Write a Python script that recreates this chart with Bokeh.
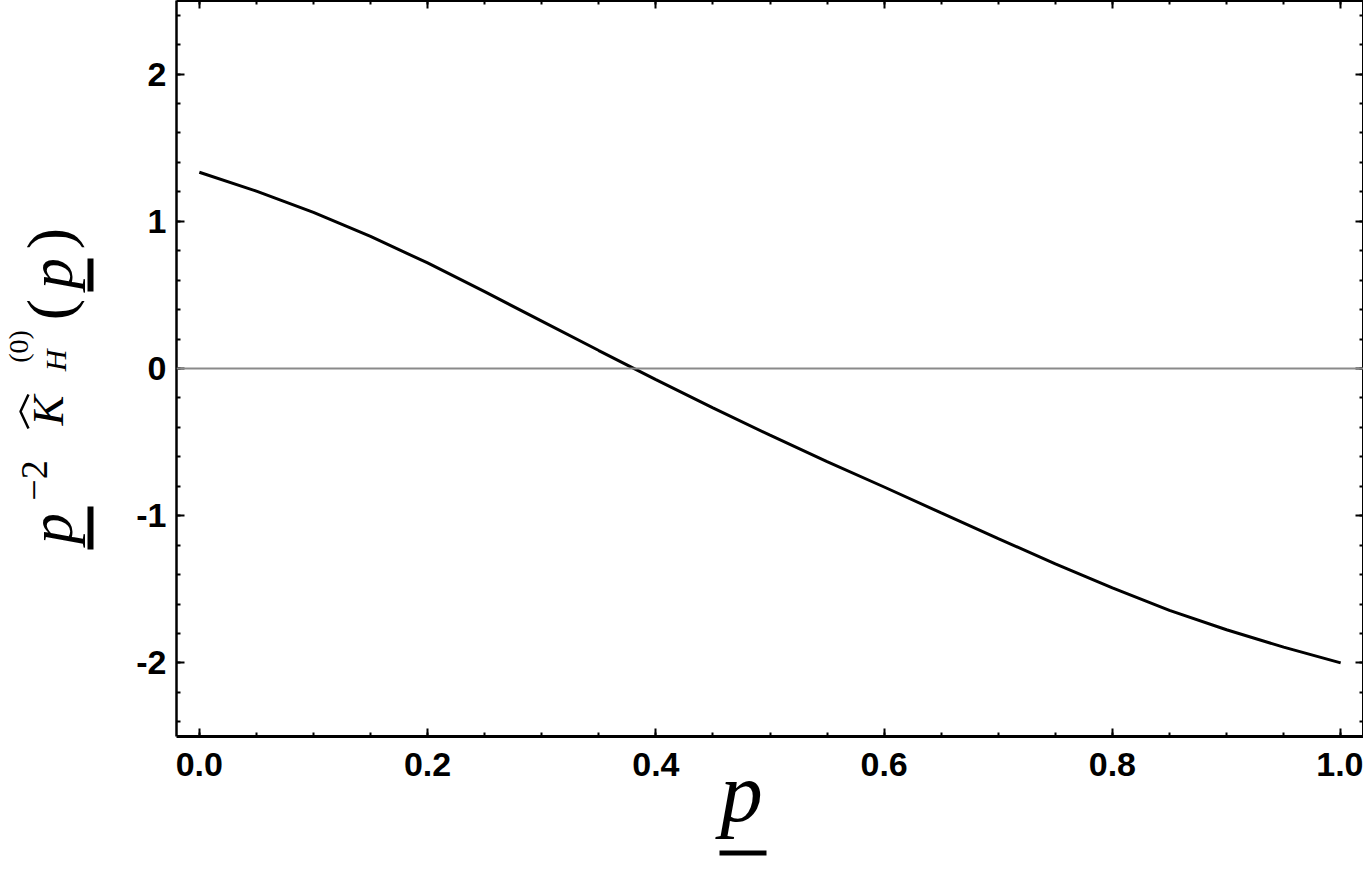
import numpy as np
from bokeh.plotting import figure
from bokeh.layouts import column, row
from bokeh.models import (FixedTicker, LinearAxis, Span, CustomJSTickFormatter, Range1d)
from bokeh.core.properties import value
from bokeh.embed import file_html
from bokeh.resources import INLINE

# ---- data ----
p_values = [0.0, 0.05, 0.1, 0.15, 0.2, 0.25, 0.3, 0.35, 0.4, 0.45, 0.5,
            0.55, 0.6, 0.65, 0.7, 0.75, 0.8, 0.85, 0.9, 0.95, 1.0]
k_values = [1.333, 1.205, 1.060, 0.897, 0.717, 0.522, 0.322, 0.122, -0.075, -0.267, -0.453,
            -0.632, -0.805, -0.981, -1.156, -1.327, -1.491, -1.643, -1.775, -1.893, -2.0]
x_ticks = [0.0, 0.2, 0.4, 0.6, 0.8, 1.0]
x_minor = [0.0, 0.05, 0.1, 0.15, 0.2, 0.25, 0.3, 0.35, 0.4, 0.45, 0.5,
           0.55, 0.6, 0.65, 0.7, 0.75, 0.8, 0.85, 0.9, 0.95, 1.0]
y_ticks = [-2, -1, 0, 1, 2]
y_minor = [-2.4, -2.2, -2.0, -1.8, -1.6, -1.4, -1.2, -1.0, -0.8, -0.6, -0.4, -0.2, 0.0,
           0.2, 0.4, 0.6, 0.8, 1.0, 1.2, 1.4, 1.6, 1.8, 2.0, 2.2, 2.4]

MW = 1363         # width of the page content
MH = 786          # height of the main plot
OH = 868          # height of the transparent label overlay

# ---------------- main plot ----------------
p = figure(width=MW, height=MH, output_backend="svg", toolbar_location=None,
           x_range=Range1d(-0.02, 1.02), y_range=Range1d(-2.5, 2.5),
           x_axis_location=None, y_axis_location=None,
           min_border_left=176, min_border_right=0, min_border_top=0, min_border_bottom=50)
p.outline_line_color = None
p.grid.visible = False

xt = FixedTicker(ticks=x_ticks, minor_ticks=x_minor)
yt = FixedTicker(ticks=y_ticks, minor_ticks=y_minor)


def style_axis(ax, width, labels=True, standoff=8):
    ax.axis_line_width = width
    ax.axis_line_color = "black"
    ax.major_tick_in = 8
    ax.major_tick_out = 0
    ax.minor_tick_in = 4
    ax.minor_tick_out = 0
    ax.major_tick_line_width = 2
    ax.minor_tick_line_width = 2
    ax.major_tick_line_color = "black"
    ax.minor_tick_line_color = "black"
    if labels:
        ax.major_label_text_font = "Liberation Sans"
        ax.major_label_text_font_style = "bold"
        ax.major_label_text_font_size = "34px"
        ax.major_label_text_color = "black"
        ax.major_label_standoff = standoff
    else:
        ax.major_label_text_font_size = "0px"
        ax.major_label_standoff = 0
        ax.formatter = CustomJSTickFormatter(code="return ''")


xb = LinearAxis(ticker=xt, formatter=CustomJSTickFormatter(code="return tick.toFixed(1)"))
style_axis(xb, 3, standoff=16)
p.add_layout(xb, "below")
yl = LinearAxis(ticker=yt, formatter=CustomJSTickFormatter(code="return tick.toFixed(0)"))
style_axis(yl, 2.5, standoff=10)
p.add_layout(yl, "left")
xa = LinearAxis(ticker=xt)
style_axis(xa, 3, labels=False)
p.add_layout(xa, "above")
yr = LinearAxis(ticker=yt)
style_axis(yr, 3, labels=False)
p.add_layout(yr, "right")

p.add_layout(Span(location=0, dimension="width", line_color="#8a8a8a", line_width=2))
p.line(p_values, k_values, line_width=3, line_color="black")

# ---------------- transparent overlay carrying the axis titles (page pixel coords) ----------------
ov = figure(width=MW, height=OH, output_backend="svg", toolbar_location=None,
            x_range=Range1d(0, MW), y_range=Range1d(OH, 0),
            x_axis_location=None, y_axis_location=None,
            min_border=0, min_border_left=0, min_border_right=0,
            min_border_top=0, min_border_bottom=0, margin=(-MH, 0, 0, 0))
ov.outline_line_color = None
ov.grid.visible = False
ov.background_fill_color = None
ov.border_fill_color = None

aligned_off = True
try:
    p.frame_align = False
    ov.frame_align = False
except Exception:
    aligned_off = False


def txt(s, x, y, size, font="Liberation Serif", style="italic", angle=0.0):
    ov.text(x=[x], y=[y], text=[s], angle=angle, text_font=value(font),
            text_font_style=style, text_font_size=f"{size}px", text_align="center",
            text_baseline="middle", text_color="black")


def bar(x0, y0, x1, y1):
    ov.quad(left=[x0], right=[x1], top=[y0], bottom=[y1], fill_color="black", line_color=None)


# y title: p^-2 K̂_H^(0)(p), rotated
R = np.pi / 2
txt("p", 50, 528, 62, angle=R)
bar(87, 506, 93, 549)
txt("\u22122", 34, 480, 38, style="normal", angle=R)
txt("K", 47, 410, 45, angle=R)
ov.line(x=[28, 20, 28], y=[428, 411, 394], line_width=2.5, line_color="black")
txt("H", 55, 360, 30, angle=R)
txt("(0)", 18, 346, 28, style="normal", angle=R)
txt("(", 49, 309, 64, style="normal", angle=R)
txt("p", 50, 273, 62, angle=R)
bar(87, 258, 93, 291)
txt(")", 49, 238, 64, style="normal", angle=R)

# x title: underlined p
txt("p", 741, 791, 85)
bar(719, 850, 766, 855)

if aligned_off:
    layout = column(p, ov)
else:
    layout = column(p, row(ov))
open("out.html", "w").write(file_html(layout, INLINE))
